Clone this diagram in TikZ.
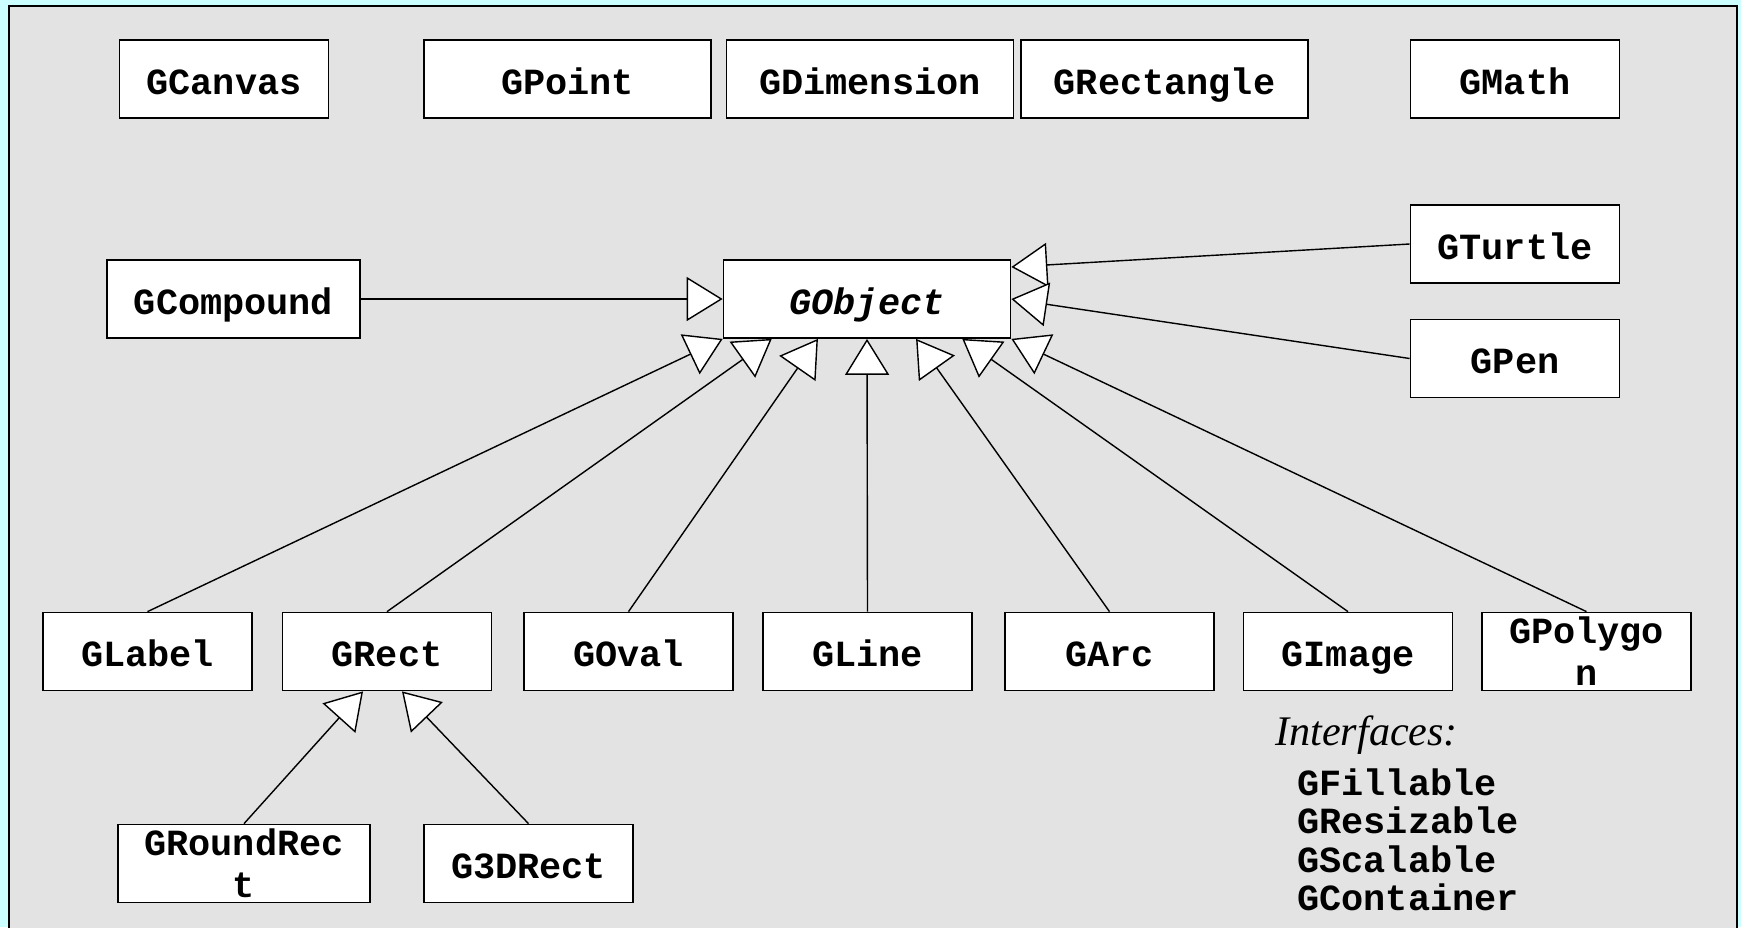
\documentclass[tikz,border=0pt]{standalone}
\usepackage{fontspec}
\setmainfont{Liberation Serif}
\setmonofont{Liberation Mono}
\usepackage{tikz}
\usetikzlibrary{arrows.meta,calc}
\definecolor{panelgrey}{RGB}{227,227,227}
\definecolor{bgcyan}{RGB}{204,255,255}

\begin{document}
\begin{tikzpicture}[x=0.02cm, y=-0.02cm,
    cls/.style={rectangle, draw=black, line width=1pt, fill=white,
        minimum width=4.18cm, minimum height=1.56cm, inner sep=1pt,
        text height=0.6cm, text depth=0cm,
        align=center, font=\ttfamily\bfseries\fontsize{21}{24}\selectfont},
    twoline/.style={text height={}, text depth={}},
    widecls/.style={cls, minimum width=5.74cm},
    inh/.style={-{Triangle[length=0.72cm, width=0.88cm, fill=white]}, line width=0.8pt}
]
    % Background
    \fill[bgcyan] (0,0) rectangle (1741,927);
    \useasboundingbox (0,0) rectangle (1741,927);
    \draw[line width=1.2pt, fill=panelgrey] (9,6) rectangle (1737,935);

    % Utility classes
    \node[cls] (canvas) at (224,79) {GCanvas};
    \node[widecls] (point) at (567.5,79) {GPoint};
    \node[widecls] (dim) at (870,79) {GDimension};
    \node[widecls] (rectangle) at (1164.5,79) {GRectangle};
    \node[cls] (math) at (1515,79) {GMath};

    % Middle row
    \node[cls, minimum width=5.06cm] (compound) at (233.5,299) {GCompound};
    \node[widecls, font=\ttfamily\bfseries\itshape\fontsize{21}{24}\selectfont] (obj) at (867,299) {GObject};
    \node[cls] (turtle) at (1515,244) {GTurtle};
    \node[cls] (pen) at (1515,358.5) {GPen};

    % Shape classes
    \node[cls] (label) at (147.5,651.5) {GLabel};
    \node[cls] (rect) at (387,651.5) {GRect};
    \node[cls] (oval) at (628.5,651.5) {GOval};
    \node[cls] (line) at (867.5,651.5) {GLine};
    \node[cls] (arc) at (1109.5,651.5) {GArc};
    \node[cls] (image) at (1348,651.5) {GImage};
    \node[cls, twoline] (polygon) at (1586.5,651.5) {GPolygo\\n};
    \node[cls, twoline, minimum width=5.04cm] (roundrect) at (244,863.5) {GRoundRec\\t};
    \node[cls] (rect3d) at (528.5,863.5) {G3DRect};

    % Interfaces
    \node[anchor=west, inner sep=0pt, font=\itshape\fontsize{24}{26}\selectfont] (ifhead) at (1275,735) {Interfaces:};
    \node[anchor=west, inner sep=0pt, align=left, font=\ttfamily\bfseries\fontsize{21}{21.9}\selectfont] (iflist) at (1297,840)
        {GFillable\\GResizable\\GScalable\\GContainer};

    % Inheritance
    \draw[inh] (compound) -- (obj.west);
    \draw[inh] (turtle.west) -- ([yshift=0.64cm]obj.east);
    \draw[inh] (pen.west) -- (obj.east);
    \draw[inh] (label.north) -- (obj.south west);
    \draw[inh] (rect.north) -- ($(obj.south west)!0.17!(obj.south east)$);
    \draw[inh] (oval.north) -- ($(obj.south west)!0.33!(obj.south east)$);
    \draw[inh] (line.north) -- (obj.south);
    \draw[inh] (arc.north) -- ($(obj.south west)!0.67!(obj.south east)$);
    \draw[inh] (image.north) -- ($(obj.south west)!0.83!(obj.south east)$);
    \draw[inh] (polygon.north) -- (obj.south east);
    \draw[inh] (roundrect.north) -- ([xshift=-0.48cm]rect.south);
    \draw[inh] (rect3d.north) -- ([xshift=0.3cm]rect.south);
\end{tikzpicture}
\end{document}
